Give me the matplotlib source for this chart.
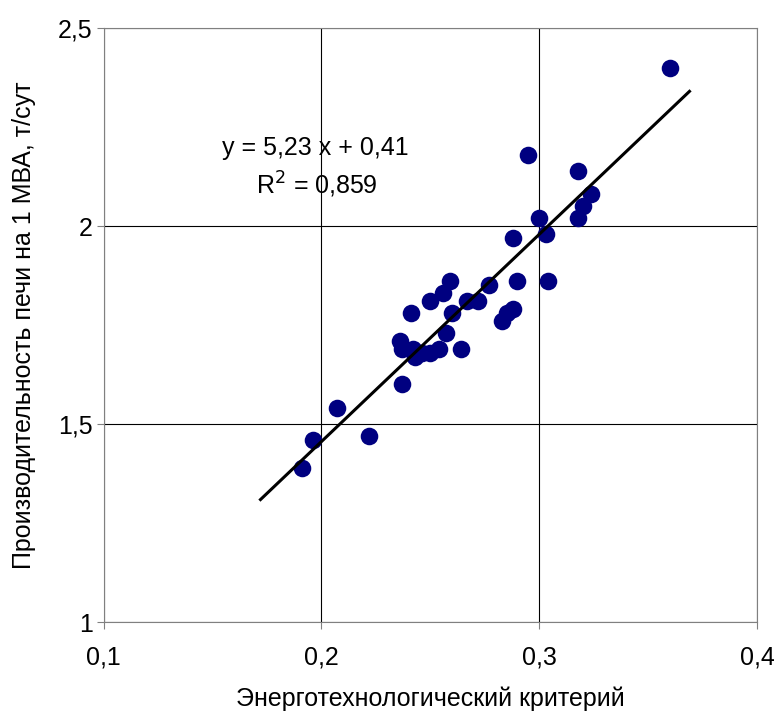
import matplotlib
matplotlib.use("Agg")
import matplotlib.pyplot as plt
import numpy as np

plt.rcParams['font.family'] = ['Liberation Sans', 'DejaVu Sans']

# energy-technological criterion vs furnace productivity per 1 MVA
crit = [0.295, 0.318, 0.324, 0.320, 0.318, 0.300, 0.303, 0.288, 0.304, 0.290,
        0.277, 0.259, 0.256, 0.250, 0.267, 0.272, 0.288, 0.285, 0.283, 0.241,
        0.260, 0.257, 0.236, 0.237, 0.242, 0.243, 0.250, 0.254, 0.264, 0.237,
        0.207, 0.222, 0.196, 0.191, 0.360, 0.246]
prod = [2.18, 2.14, 2.08, 2.05, 2.02, 2.02, 1.98, 1.97, 1.86, 1.86,
        1.85, 1.86, 1.83, 1.81, 1.81, 1.81, 1.79, 1.78, 1.76, 1.78,
        1.78, 1.73, 1.71, 1.69, 1.69, 1.67, 1.68, 1.69, 1.69, 1.60,
        1.54, 1.47, 1.46, 1.39, 2.40, 1.68]

slope, intercept = 5.23, 0.41
fit_x = [0.172, 0.369]

xticks = [0.1, 0.2, 0.3, 0.4]
xtick_labels = ['0,1', '0,2', '0,3', '0,4']
yticks = [1, 1.5, 2, 2.5]
ytick_labels = ['1', '1,5', '2', '2,5']

fig = plt.figure(figsize=(7.74, 7.16), dpi=100)
ax = fig.add_axes([0.134, 0.131, 0.844, 0.830])

ax.scatter(crit, prod, s=160, color='#000080', zorder=3, linewidths=0)
fx = np.array(fit_x)
ax.plot(fx, slope * fx + intercept, color='black', lw=2.2, zorder=4)

ax.set_xlim(0.1, 0.4)
ax.set_ylim(1, 2.5)
ax.set_xticks(xticks)
ax.set_xticklabels(xtick_labels)
ax.set_yticks(yticks)
ax.set_yticklabels(ytick_labels)
ax.tick_params(labelsize=18, length=5, color='#808080')
ax.tick_params(axis='x', pad=12)
ax.tick_params(axis='y', pad=3)
ax.grid(True, color='black', lw=0.8)
ax.set_axisbelow(True)
for sp in ax.spines.values():
    sp.set_color('#808080')

ax.set_xlabel('Энерготехнологический критерий', fontsize=18, labelpad=12)
ax.set_ylabel('Производительность печи на 1 МВА, т/сут', fontsize=18, labelpad=16)

ax.text(0.197, 2.198, 'y = 5,23 x + 0,41', fontsize=18, ha='center', va='center')
ax.text(0.198, 2.104, 'R$^2$ = 0,859', fontsize=18, ha='center', va='center')

fig.savefig('out.png', dpi=100)
